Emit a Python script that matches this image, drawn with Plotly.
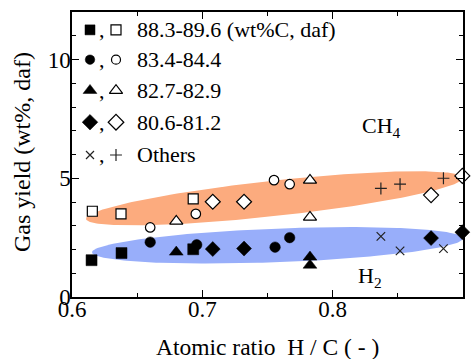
import numpy as np
import plotly.graph_objects as go

# ---------------- data ----------------
# Group 88.3-89.6 wt%C (squares)
sq_ch4_x = [0.6156, 0.6376, 0.693]
sq_ch4_y = [3.61, 3.50, 4.13]
sq_h2_x = [0.615, 0.638, 0.693]
sq_h2_y = [1.55, 1.85, 2.01]
# Group 83.4-84.4 (circles)
ci_ch4_x = [0.660, 0.695, 0.755, 0.767]
ci_ch4_y = [2.93, 3.50, 4.92, 4.75]
ci_h2_x = [0.660, 0.6957, 0.7558, 0.767]
ci_h2_y = [2.31, 2.20, 2.10, 2.50]
# Group 82.7-82.9 (triangles)
tr_ch4_x = [0.680, 0.7826, 0.7826]
tr_ch4_y = [3.19, 4.92, 3.36]
tr_h2_x = [0.680, 0.7826, 0.7826]
tr_h2_y = [1.89, 1.68, 1.34]
# Group 80.6-81.2 (diamonds)
di_ch4_x = [0.708, 0.732, 0.8755, 0.8995]
di_ch4_y = [4.01, 4.01, 4.29, 5.10]
di_h2_x = [0.708, 0.732, 0.8755, 0.8995]
di_h2_y = [2.02, 2.04, 2.48, 2.73]
# Others (+ for CH4, x for H2)
ot_ch4_x = [0.837, 0.8517, 0.885]
ot_ch4_y = [4.57, 4.75, 5.00]
ot_h2_x = [0.837, 0.8517, 0.885]
ot_h2_y = [2.55, 1.94, 2.04]

legend_labels = ["88.3-89.6 (wt%C, daf)", "83.4-84.4", "82.7-82.9", "80.6-81.2", "Others"]
x_tick_vals = [0.6, 0.7, 0.8, 0.9]
x_tick_text = ["0.6", "0.7", "0.8", "0.9"]
y_tick_vals = [0, 5, 10]
y_tick_text = ["0", "5", "10"]

# shaded bands: (x_left, y_left, x_right, y_right, half thickness in y units)
band_ch4 = (0.6107, 3.29, 0.900, 5.02, 0.745)
band_h2 = (0.6153, 1.88, 0.900, 2.47, 0.71)

# ---------------- layout constants ----------------
W, H = 476, 359
ML, MR, MT, MB = 72, 13, 10, 62
PW, PH = W - ML - MR, H - MT - MB
XR = [0.6, 0.9]
YR = [0, 12]
PX_X = PW / (XR[1] - XR[0])
PX_Y = PH / (YR[1] - YR[0])

FONT = "Liberation Serif, Times New Roman, serif"
ORANGE = "#FCAB7E"
BLUE = "#98AEFA"


def ellipse(band, n=240):
    x0, y0, x1, y1, half = band
    X0, Y0, X1, Y1 = x0 * PX_X, y0 * PX_Y, x1 * PX_X, y1 * PX_Y
    cx, cy = (X0 + X1) / 2, (Y0 + Y1) / 2
    a = np.hypot(X1 - X0, Y1 - Y0) / 2
    ang = np.arctan2(Y1 - Y0, X1 - X0)
    b = half * PX_Y
    t = np.linspace(0, 2 * np.pi, n)
    X = cx + a * np.cos(t) * np.cos(ang) - b * np.sin(t) * np.sin(ang)
    Y = cy + a * np.cos(t) * np.sin(ang) + b * np.sin(t) * np.cos(ang)
    return X / PX_X, Y / PX_Y


fig = go.Figure()

for band, col in [(band_ch4, ORANGE), (band_h2, BLUE)]:
    ex, ey = ellipse(band)
    fig.add_trace(go.Scatter(x=ex, y=ey, mode="lines", fill="toself", fillcolor=col,
                             line=dict(width=0, color=col), hoverinfo="skip", showlegend=False))

BLACK = "black"


def add_pts(x, y, symbol, size, filled, lw=1.2):
    if symbol in ("x-thin", "cross-thin"):
        marker = dict(symbol=symbol, size=size, line=dict(color="#222", width=lw))
    elif filled:
        marker = dict(symbol=symbol, size=size, color=BLACK, line=dict(color=BLACK, width=0.5))
    else:
        marker = dict(symbol=symbol, size=size, color="white", line=dict(color=BLACK, width=lw))
    fig.add_trace(go.Scatter(x=x, y=y, mode="markers", marker=marker, showlegend=False,
                             cliponaxis=False))


add_pts(sq_ch4_x, sq_ch4_y, "square", 10, False)
add_pts(ci_ch4_x, ci_ch4_y, "circle", 9.5, False)
add_pts(tr_ch4_x, tr_ch4_y, "triangle-up", 11.5, False)
add_pts(di_ch4_x, di_ch4_y, "diamond", 11.5, False)
add_pts(ot_ch4_x, ot_ch4_y, "cross-thin", 8.5, False)
add_pts(sq_h2_x, sq_h2_y, "square", 11, True)
add_pts(ci_h2_x, ci_h2_y, "circle", 10.5, True)
add_pts(tr_h2_x, tr_h2_y, "triangle-up", 12, True)
add_pts(di_h2_x, di_h2_y, "diamond", 11.5, True)
add_pts(ot_h2_x, ot_h2_y, "x-thin", 8.5, False)

# ---------------- custom legend (overlay axis in paper units) ----------------
row_px = [28, 58, 89, 121, 154]
row_y = [(MT + PH - p) / PH for p in row_px]
fx = (90 - ML) / PW
ox = (116 - ML) / PW
cx_ = (102 - ML) / PW
tx = (135 - ML) / PW
leg_sym = [("square", 10, "square", 10), ("circle", 9.5, "circle", 9),
           ("triangle-up", 12, "triangle-up", 11.5), ("diamond", 12, "diamond", 12),
           ("x-thin", 8, "cross-thin", 8.5)]
for (fs, fsz, os_, osz), yy in zip(leg_sym, row_y):
    if fs == "x-thin":
        m1 = dict(symbol=fs, size=fsz, line=dict(color="#222", width=1.2))
    else:
        m1 = dict(symbol=fs, size=fsz, color=BLACK, line=dict(color=BLACK, width=0.5))
    if os_ == "cross-thin":
        m2 = dict(symbol=os_, size=osz, line=dict(color="#222", width=1.2))
    else:
        m2 = dict(symbol=os_, size=osz, color="white", line=dict(color=BLACK, width=1.2))
    fig.add_trace(go.Scatter(x=[fx], y=[yy], xaxis="x2", yaxis="y2", mode="markers",
                             marker=m1, showlegend=False, cliponaxis=False, hoverinfo="skip"))
    fig.add_trace(go.Scatter(x=[ox], y=[yy], xaxis="x2", yaxis="y2", mode="markers",
                             marker=m2, showlegend=False, cliponaxis=False, hoverinfo="skip"))

annotations = []
for lab, yy in zip(legend_labels, row_y):
    annotations.append(dict(x=tx, y=yy, xref="paper", yref="paper", text=lab, showarrow=False,
                            xanchor="left", yanchor="middle", font=dict(family=FONT, size=22, color="black")))
    annotations.append(dict(x=cx_, y=yy, xref="paper", yref="paper", text=",", showarrow=False,
                            xanchor="center", yanchor="middle", font=dict(family=FONT, size=22, color="black")))

annotations.append(dict(x=(381 - ML) / PW, y=(MT + PH - 126) / PH, xref="paper", yref="paper",
                        text="CH<sub>4</sub>", showarrow=False, xanchor="center", yanchor="middle",
                        font=dict(family=FONT, size=22, color="black")))
annotations.append(dict(x=(370 - ML) / PW, y=(MT + PH - 277) / PH, xref="paper", yref="paper",
                        text="H<sub>2</sub>", showarrow=False, xanchor="center", yanchor="middle",
                        font=dict(family=FONT, size=22, color="black")))
annotations.append(dict(x=(267 - ML) / PW, y=(MT + PH - 347) / PH, xref="paper", yref="paper",
                        text="Atomic ratio\u00a0\u00a0H / C ( - )", showarrow=False,
                        xanchor="center", yanchor="middle", font=dict(family=FONT, size=23.5, color="black")))
annotations.append(dict(x=(22 - ML) / PW, y=(MT + PH - 151) / PH, xref="paper", yref="paper",
                        text="Gas yield (wt%, daf)", showarrow=False, textangle=-90,
                        xanchor="center", yanchor="middle", font=dict(family=FONT, size=24, color="black")))

axis_common = dict(showline=True, linecolor="black", linewidth=1.5, mirror="ticks", ticks="inside",
                   tickcolor="black", tickwidth=1.2, ticklen=7, showgrid=False, zeroline=False,
                   tickfont=dict(family=FONT, size=23, color="black"))

fig.update_layout(
    width=W, height=H,
    margin=dict(l=ML, r=MR, t=MT, b=MB, pad=0),
    paper_bgcolor="white", plot_bgcolor="white",
    showlegend=False,
    xaxis=dict(range=XR, tickmode="array", tickvals=x_tick_vals, ticktext=x_tick_text,
               ticklabelstandoff=-9,
               minor=dict(ticks="inside", dtick=0.05, tick0=0.6, ticklen=4, tickcolor="black", tickwidth=1.2),
               **axis_common),
    yaxis=dict(range=YR, tickmode="array", tickvals=y_tick_vals, ticktext=y_tick_text,
               ticklabelstandoff=-5,
               minor=dict(ticks="inside", dtick=1, tick0=0, ticklen=4, tickcolor="black", tickwidth=1.2),
               **axis_common),
    xaxis2=dict(overlaying="x", range=[0, 1], visible=False, fixedrange=True),
    yaxis2=dict(overlaying="y", range=[0, 1], visible=False, fixedrange=True),
    annotations=annotations,
)

fig.write_html("out.html")
